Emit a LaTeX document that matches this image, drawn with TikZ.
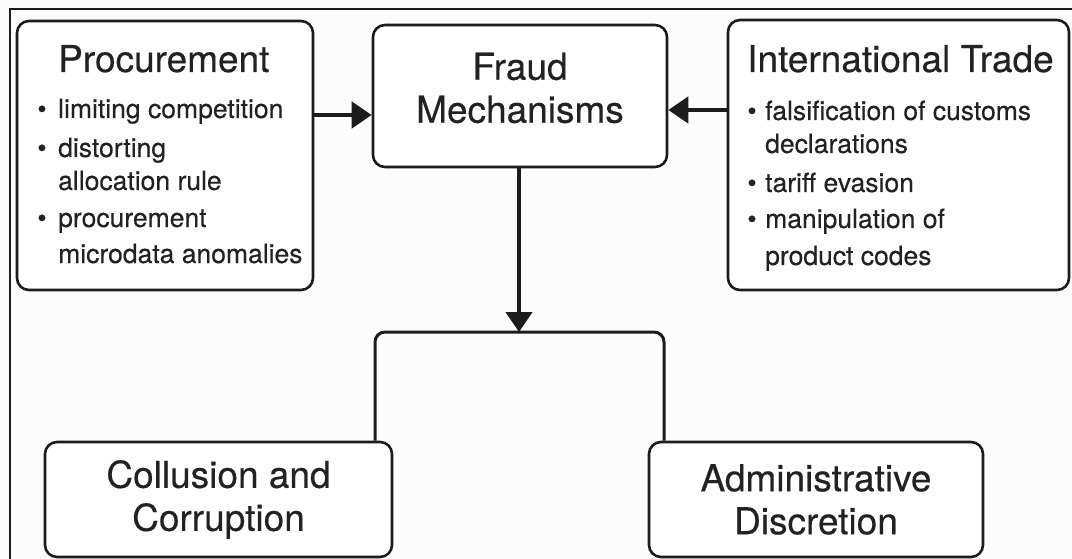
\documentclass[tikz,border=0pt]{standalone}
\usepackage{fontspec}
\setmainfont{TeX Gyre Heros}[FakeBold=0.35]
\usetikzlibrary{arrows.meta,calc}
\definecolor{ink}{HTML}{1C1C1C}
\definecolor{txt}{HTML}{222222}
\definecolor{paper}{HTML}{FCFCFC}
\begin{document}
\begin{tikzpicture}[x=1pt,y=-1pt,
  box/.style={draw=ink, line width=2.6pt, rounded corners=12pt, fill=white, inner sep=0pt},
  arr/.style={draw=ink, line width=4.5pt, -{Triangle[length=20pt,width=26pt]}},
  link/.style={draw=ink, line width=3pt, rounded corners=10pt},
  ttl/.style={font=\fontsize{37}{44}\selectfont, text=txt, anchor=base west, inner sep=0pt},
  itm/.style={font=\fontsize{26.5}{33}\selectfont, text=txt, anchor=base west, inner sep=0pt},
  bul/.style={font=\fontsize{26.5}{33}\selectfont, text=txt, anchor=base, inner sep=0pt},
  big/.style={font=\fontsize{37}{43}\selectfont, text=txt, align=center},
]
\useasboundingbox (0,0) rectangle (1072,559);
\fill[paper] (0,0) rectangle (1072,559);
% outer frame
\draw[ink, line width=1.6pt] (10,559) -- (10,9) -- (1072,9);

% boxes
\node[box, minimum width=296pt, minimum height=269pt] (proc) at (165,155.5) {};
\node[box, minimum width=294pt, minimum height=142pt] (fraud) at (520,96) {};
\node[box, minimum width=341pt, minimum height=270pt] (trade) at (898.5,155) {};
\node[box, minimum width=347pt, minimum height=115pt, big] (coll) at (218.5,499.5) {Collusion and\\Corruption};
\node[box, minimum width=334pt, minimum height=115pt, big] (adm) at (816,499.5) {Administrative\\Discretion};

% central title
\node[big, inner sep=0pt] (fraudtext) at (520,88) {Fraud\\Mechanisms};

% procurement list
\node[ttl] (ptitle) at (58,72) {Procurement};
\node[bul] (pb1) at (42,118) {\textbullet};
\node[itm] (p1) at (58,118) {limiting competition};
\node[bul] (pb2) at (42,157) {\textbullet};
\node[itm] (p2) at (58,157) {distorting};
\node[itm] (p2b) at (58,190) {allocation rule};
\node[bul] (pb3) at (42,227) {\textbullet};
\node[itm] (p3) at (58,227) {procurement};
\node[itm] (p3b) at (58,263) {microdata anomalies};

% international trade list
\node[ttl] (ttitle) at (747,72) {International Trade};
\node[bul] (tb1) at (752,120) {\textbullet};
\node[itm] (t1) at (765,120) {falsification of customs};
\node[itm] (t1b) at (765,153) {declarations};
\node[bul] (tb2) at (752,192) {\textbullet};
\node[itm] (t2) at (765,192) {tariff evasion};
\node[bul] (tb3) at (752,228) {\textbullet};
\node[itm] (t3) at (765,228) {manipulation of};
\node[itm] (t3b) at (765,265) {product codes};

% connectors
\coordinate (split) at (519,332);
\draw[arr] (proc.east |- 0,115) -- (fraud.west |- 0,115);
\draw[arr] (trade.west |- 0,110) -- (fraud.east |- 0,110);
\draw[arr] (fraud.south -| split) -- (split);
\draw[link] (coll.north -| 375,0) -- (375,332) -- (664,332) -- (adm.north -| 664,0);
\end{tikzpicture}
\end{document}
